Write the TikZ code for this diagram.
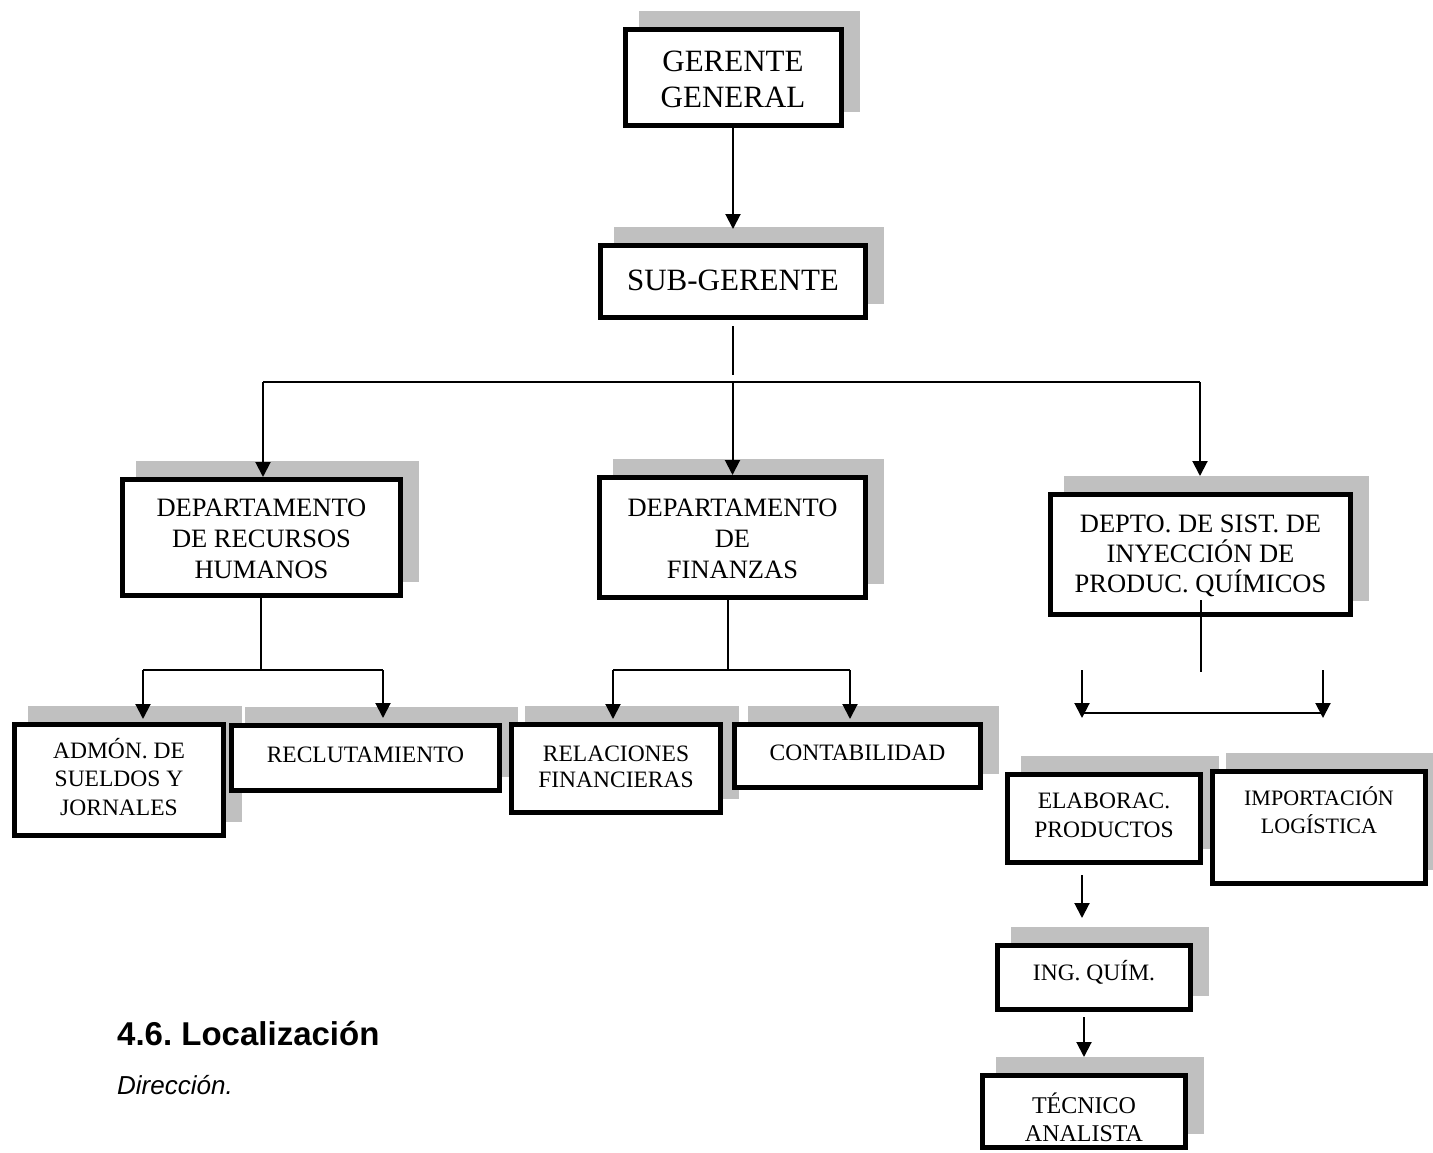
\documentclass[tikz,border=0pt]{standalone}
\usepackage{fontspec}
\setmainfont{Liberation Serif}
\newfontfamily\arialf{Liberation Sans}
\usetikzlibrary{arrows.meta,backgrounds}
\definecolor{shd}{HTML}{C0C0C0}
\frenchspacing
\begin{document}
\begin{tikzpicture}[x=1pt,y=-1pt,
  box/.style={draw, line width=5pt, fill=white, align=center, inner sep=0pt, text depth=0pt},
  fbig/.style={font=\fontsize{31}{36}\selectfont},
  fdep/.style={font=\fontsize{26.5}{#1}\selectfont},
  fsml/.style={font=\fontsize{23.5}{#1}\selectfont},
  ln/.style={line width=2pt},
  hl/.style={line width=1.6pt},
  arr/.style={line width=2pt, -{Triangle[width=15pt,length=15pt]}},
  shadowbox/.style={fill=shd}
]
\useasboundingbox (0,0) rectangle (1433,1153);

% boxes (text height = distance from the last baseline to the top of the text box)
\node[box, fbig, minimum width=216, minimum height=96, text height=61]
  (gg) at (733,77.5) {GERENTE\\GENERAL};
\node[box, fbig, minimum width=265, minimum height=72, text height=17]
  (sg) at (733,281.5) {SUB-GERENTE};
\node[box, fdep=31, minimum width=278, minimum height=116, text height=81]
  (rh) at (261.5,537.5) {DEPARTAMENTO\\DE RECURSOS\\HUMANOS};
\node[box, fdep=31, minimum width=266, minimum height=120, text height=81]
  (fin) at (732.5,537.5) {DEPARTAMENTO\\DE\\FINANZAS};
\node[box, fdep=30, minimum width=300, minimum height=120, text height=75]
  (dep) at (1200.5,554.5) {DEPTO. DE SIST. DE\\INYECCIÓN DE\\PRODUC. QUÍMICOS};
\node[box, fsml=28.5, minimum width=209, minimum height=111, text height=70]
  (adm) at (119,780) {ADMÓN. DE\\SUELDOS Y\\JORNALES};
\node[box, fsml=28, minimum width=268, minimum height=65, text height=8]
  (rec) at (365.5,758) {RECLUTAMIENTO};
\node[box, fsml=26, minimum width=209, minimum height=88, text height=37]
  (rel) at (616,768.5) {RELACIONES\\FINANCIERAS};
\node[box, fsml=28, minimum width=246, minimum height=63, text height=8]
  (con) at (857.5,756) {CONTABILIDAD};
\node[box, fsml=29, minimum width=193, minimum height=88, text height=37]
  (ela) at (1104,818.5) {ELABORAC.\\PRODUCTOS};
\node[box, font=\fontsize{22}{28}\selectfont, minimum width=213, minimum height=112, text height=11]
  (imp) at (1319,827.5) {IMPORTACIÓN\\LOGÍSTICA};
\node[box, fsml=28, minimum width=193, minimum height=64, text height=5]
  (ing) at (1094,977.5) {ING. QUÍM.};
\node[box, font=\fontsize{24}{28}\selectfont, minimum width=203, minimum height=72, text height=59]
  (tec) at (1084,1111.5) {TÉCNICO\\ANALISTA};

% headings
\node[anchor=base west, inner sep=0pt, font=\arialf\bfseries\fontsize{33}{40}\selectfont]
  (hd) at (117,1045) {4.6. Localización};
\node[anchor=base west, inner sep=0pt, font=\arialf\itshape\fontsize{26}{32}\selectfont]
  (dir) at (117,1094) {Dirección.};

% shadows and page background
\begin{scope}[on background layer]
  \fill[white] (0,0) rectangle (1433,1153);
  \foreach \n in {gg,sg,rh,fin,dep,adm,rec,rel,con,ela,imp,ing,tec}
    \fill[shadowbox] ([shift={(16,-16)}]\n.south west) rectangle ([shift={(16,-16)}]\n.north east);
\end{scope}

% connectors
\draw[arr] (gg.south) -- ([yshift=14]sg.north);
\draw[ln] ([yshift=-6]sg.south) -- ++(0,49);
\coordinate (b1) at (263,382);
\coordinate (b3) at (1200,382);
\draw[hl] (b1) -- (b3);
\draw[arr] (b1) -- (b1 |- rh.north);
\draw[arr] (fin.north |- b1) -- (fin.north);
\draw[arr] (b3) -- ([yshift=16]dep.north -| b3);

\draw[ln] ([xshift=-0.5]rh.south) -- ++(0,72);
\coordinate (rl) at (143,670);
\coordinate (rr) at (383,670);
\draw[hl] (rl) -- (rr);
\draw[arr] (rl) -- ([yshift=3]adm.north -| rl);
\draw[arr] (rr) -- ([yshift=5]rec.north -| rr);

\draw[ln] ([xshift=-4.5]fin.south) -- ++(0,70);
\coordinate (fl) at (613,670);
\coordinate (fr) at (850,670);
\draw[hl] (fl) -- (fr);
\draw[arr] (fl) -- ([yshift=3]rel.north -| fl);
\draw[arr] (fr) -- ([yshift=3]con.north -| fr);

\draw[ln] ([yshift=17]dep.south) -- ++(0,72);
\coordinate (dl1) at (1082,670);
\coordinate (dl2) at (1082,718);
\coordinate (dr1) at (1323,670);
\coordinate (dr2) at (1323,718);
\coordinate (dh1) at (1082,713);
\coordinate (dh2) at (1323,713);
\draw[arr] (dl1) -- (dl2);
\draw[arr] (dr1) -- (dr2);
\draw[hl] (dh1) -- (dh2);

\draw[arr] ([xshift=-22,yshift=-10]ela.south) -- ++(0,43);
\draw[arr] ([yshift=-5]ing.south -| tec.north) -- ([yshift=16]tec.north);
\end{tikzpicture}
\end{document}
